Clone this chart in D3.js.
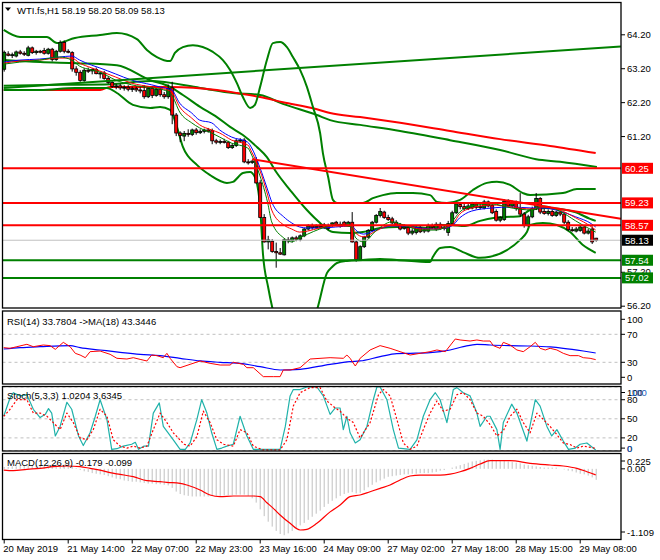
<!DOCTYPE html>
<html><head><meta charset="utf-8">
<script src="https://cdn.jsdelivr.net/npm/d3@7"></script>
<style>
body{margin:0;background:#fff;}
svg{display:block;}
text{font-family:"Liberation Sans",Arial,sans-serif;font-size:9.5px;fill:#000;}
</style></head>
<body><svg id="c" width="660" height="560"></svg>
<script>
// ---------- DATA ----------
const timeLabels=["20 May 2019","21 May 14:00","22 May 07:00","22 May 23:00","23 May 16:00","24 May 09:00","27 May 02:00","27 May 18:00","28 May 15:00","29 May 08:00"];
const timeTickIdx=[0,16,32,48,64,80,96,112,128,144];
const priceTicks=[64.2,63.2,62.2,61.2,57.2,56.2];

const open=[63.17,63.62,63.58,63.56,63.68,63.64,63.58,63.80,63.66,63.70,
63.72,63.64,63.76,63.46,63.70,63.96,63.70,63.66,63.18,63.08,
62.84,63.14,63.12,63.16,63.04,63.06,62.90,62.78,62.66,62.68,
62.62,62.64,62.58,62.60,62.56,62.54,62.36,62.60,62.40,62.58,
62.42,62.36,62.62,61.82,61.29,61.20,61.28,61.25,61.38,61.30,
61.34,61.38,61.36,61.06,61.02,61.04,61.02,60.86,60.92,61.06,
61.08,60.44,60.42,60.48,59.82,58.80,58.08,58.10,57.80,57.76,
57.70,58.14,58.12,58.20,58.16,58.26,58.46,58.55,58.50,58.54,
58.58,58.56,58.60,58.66,58.60,58.66,58.56,58.66,58.08,57.56,
57.94,58.22,58.42,58.66,58.86,58.96,58.80,58.76,58.66,58.58,
58.48,58.50,58.34,58.36,58.50,58.40,58.40,58.56,58.46,58.60,
58.48,58.36,58.62,58.94,59.18,59.12,59.06,59.08,59.20,59.10,
59.08,59.26,59.16,58.98,58.72,58.74,59.28,59.14,59.24,59.06,
58.90,58.56,58.82,59.06,59.36,58.98,58.92,58.98,58.86,58.96,
58.90,58.66,58.44,58.40,58.42,58.52,58.34,58.46,58.19];
const high=[63.72,63.70,63.66,63.72,63.74,63.70,63.86,63.84,63.74,63.74,
63.80,63.80,63.80,63.74,64.02,64.02,63.76,63.70,63.26,63.14,
63.20,63.22,63.20,63.22,63.10,63.12,62.96,62.82,62.74,62.74,
62.70,62.70,62.66,62.66,62.64,62.70,62.64,62.66,62.64,62.62,
62.50,62.72,62.80,61.88,61.34,61.35,61.40,61.42,61.44,61.40,
61.42,61.44,61.42,61.12,61.10,61.12,61.06,60.98,61.12,61.14,
61.14,60.52,60.50,60.58,59.90,58.90,58.26,58.16,58.06,57.90,
58.18,58.22,58.24,58.26,58.30,58.50,58.60,58.62,58.60,58.62,
58.64,58.62,58.66,58.70,58.68,58.70,58.70,58.96,58.12,57.98,
58.26,58.46,58.70,58.90,59.08,59.00,58.88,58.82,58.72,58.64,
58.60,58.56,58.46,58.54,58.56,58.48,58.62,58.62,58.66,58.66,
58.58,58.70,59.00,59.24,59.26,59.20,59.20,59.26,59.26,59.18,
59.32,59.30,59.22,59.04,58.84,59.34,59.34,59.30,59.30,59.52,
58.96,58.88,59.12,59.52,59.40,59.06,59.04,59.04,59.00,59.00,
58.96,58.72,58.52,58.52,58.56,58.56,58.46,58.54,58.20];
const low=[63.10,63.55,63.50,63.52,63.60,63.56,63.55,63.62,63.60,63.64,
63.60,63.60,63.40,63.42,63.66,63.64,63.64,63.10,62.98,62.80,
62.80,63.06,63.02,63.02,62.90,62.86,62.74,62.62,62.58,62.56,
62.54,62.52,62.50,62.50,62.46,62.30,62.32,62.32,62.36,62.36,
62.30,62.30,61.55,61.20,61.02,61.05,61.18,61.20,61.24,61.26,
61.28,61.30,60.96,60.96,60.96,60.98,60.82,60.82,60.88,61.00,
60.40,60.36,60.38,59.80,58.78,58.06,57.86,57.76,57.32,57.70,
57.68,58.04,58.06,58.10,58.10,58.22,58.42,58.44,58.46,58.48,
58.46,58.42,58.52,58.56,58.50,58.54,58.52,58.06,57.50,57.52,
57.90,58.18,58.38,58.62,58.80,58.76,58.70,58.60,58.54,58.42,
58.44,58.28,58.28,58.30,58.34,58.34,58.36,58.46,58.40,58.44,
58.42,58.26,58.58,58.90,59.04,59.00,59.02,59.04,59.04,59.04,
59.04,59.10,58.90,58.68,58.66,58.70,59.10,59.08,59.00,58.82,
58.50,58.52,58.78,59.02,58.90,58.88,58.86,58.82,58.82,58.84,
58.60,58.40,58.38,58.36,58.38,58.30,58.30,58.02,58.09];
const close=[63.67,63.58,63.60,63.68,63.64,63.62,63.80,63.66,63.70,63.68,
63.64,63.76,63.46,63.70,63.96,63.70,63.68,63.18,63.08,62.84,
63.14,63.12,63.16,63.04,63.06,62.90,62.78,62.66,62.68,62.62,
62.64,62.58,62.60,62.56,62.54,62.36,62.60,62.40,62.58,62.42,
62.36,62.60,61.82,61.29,61.22,61.28,61.25,61.38,61.30,61.34,
61.38,61.34,61.06,61.02,61.04,61.02,60.86,60.92,61.06,61.08,
60.44,60.42,60.46,59.82,58.80,58.08,58.14,57.80,57.76,57.72,
58.14,58.12,58.20,58.16,58.26,58.46,58.55,58.50,58.54,58.52,
58.50,58.48,58.64,58.60,58.56,58.58,58.66,58.08,57.56,57.94,
58.22,58.42,58.66,58.86,58.98,58.80,58.74,58.64,58.58,58.46,
58.52,58.34,58.40,58.48,58.38,58.44,58.56,58.52,58.60,58.48,
58.52,58.62,58.94,59.20,59.12,59.06,59.14,59.20,59.10,59.12,
59.26,59.14,58.94,58.72,58.80,59.28,59.14,59.24,59.06,58.90,
58.56,58.82,59.06,59.36,58.96,58.92,58.98,58.86,58.96,58.90,
58.66,58.44,58.42,58.46,58.52,58.34,58.40,58.08,58.13];

// Bollinger bands
const bbUpIdx=[0,4.1,10.8,13.3,17.8,24.1,28.3,33.3,35.8,38.3,41.6,42.8,44.8,47.3,52.3,54.8,56.6,58.3,59.8,61.6,62.8,64.1,65.8,67.3,69.1,70.8,72.3,74.1,75.8,77.3,79.1,79.8,81.1,82.3,83.3,89.8,92.3,94.8,98.3,102.3,106.6,108.3,110.8,114.1,117.3,120.8,123.3,126.6,129.8,131.6,139.8,143.3,148];
const bbUp=[64.33,64.12,64.12,63.94,64.09,64.18,64.24,64.06,63.74,63.53,63.41,63.65,63.82,63.88,63.68,63.44,63.15,62.76,62.35,62.03,62.12,62.65,63.44,63.94,63.97,63.82,63.53,63.15,62.65,62.06,61.29,60.70,60.00,59.32,59.23,59.23,59.37,59.46,59.52,59.52,59.46,59.26,59.23,59.32,59.61,59.82,59.85,59.76,59.52,59.46,59.52,59.64,59.64];
const bbMidIdx=[0,9.1,18.3,28.3,36.6,41.6,44.8,49.1,53.3,56.6,59.8,63.3,65.8,68.3,71.6,75.8,79.1,82.3,86.6,89.8,94.1,98.3,102.3,106.6,109.1,111.6,115.3,119.1,122.8,126.6,129.1,131.6,135.3,139.1,142.8,146.6,148];
const bbMid=[63.44,63.38,63.35,63.29,62.85,62.65,62.41,62.06,61.76,61.47,61.23,60.88,60.58,60.11,59.61,59.02,58.64,58.37,58.34,58.37,58.49,58.52,58.52,58.49,58.58,58.58,58.55,58.70,58.79,58.82,58.84,59.02,59.08,59.05,58.96,58.76,58.70];
const bbLowIdx=[0,9.1,17.8,25.8,28.3,32.3,36.6,39.1,41.6,43.3,44.8,48.3,51.6,55.8,57.3,59.8,61.6,62.8,64.1,64.8,66.1,67.3,70.3,72.8,75.3,78.3,80.8,82.1,83.3,85.8,89.8,94.1,98.3,106.6,107.3,109.1,111.6,114.8,119.1,121.6,125.8,129.1,130.8,131.6,134.8,138.3,141.6,144.8,148];
const bbLow=[62.56,62.56,62.62,62.62,62.47,62.12,62.03,62.06,61.97,61.47,60.88,60.35,60.05,59.82,59.85,60.11,60.14,59.99,59.11,57.75,56.75,56.07,55.34,55.13,55.34,56.07,57.16,57.34,57.46,57.52,57.55,57.58,57.55,57.49,57.64,57.90,57.93,57.78,57.61,57.64,57.84,58.14,58.37,58.58,58.64,58.58,58.37,57.99,57.76];

// long moving averages
const lmaRedIdx=[0,7.8,24.1,26.6,41.6,53.3,58.3,64.1,69.8,78.3,81.6,89.1,99.1,111.6,124.1,136.6,148];
const lmaRed=[62.56,62.56,62.56,62.65,62.65,62.56,62.47,62.35,62.20,61.99,61.88,61.76,61.59,61.35,61.11,60.91,60.70];
const lmaGreenIdx=[0,14.1,26.6,36.6,49.1,57.3,64.1,69.8,78.3,81.6,89.1,99.1,111.6,124.1,133.1,139.1,148.3];
const lmaGreen=[62.68,62.71,62.73,62.82,62.62,62.47,62.41,62.15,61.82,61.67,61.53,61.35,61.08,60.79,60.52,60.44,60.29];

// short moving averages
const maIdx=[0,4,9,14,17,19,22,24,28,32,37,40,42,44,47,49,52,54,57,61,62,64,66,67,70,72,74,76,79,83,87,88,90,93,97,100,104,108,112,114,117,122,127,132,135,139,143,147,148];
const maBlue=[63.38,63.44,63.47,63.53,63.56,63.44,63.29,63.21,63.03,62.85,62.71,62.62,62.56,62.17,61.88,61.67,61.59,61.38,61.17,61.02,60.85,60.29,59.61,59.26,58.82,58.64,58.52,58.49,58.49,58.52,58.55,58.43,58.31,58.43,58.55,58.55,58.49,58.46,58.55,58.79,58.99,59.08,59.11,59.08,59.08,58.99,58.82,58.61,58.52];
const maRed=[63.35,63.41,63.44,63.50,63.50,63.35,63.21,63.12,62.94,62.76,62.65,62.59,62.50,62.06,61.73,61.53,61.38,61.29,61.08,60.94,60.73,60.20,59.46,59.02,58.58,58.46,58.37,58.40,58.49,58.55,58.55,58.34,58.23,58.40,58.58,58.58,58.46,58.46,58.58,58.90,59.08,59.17,59.11,59.05,59.11,59.02,58.79,58.52,58.43];
const maGreen=[63.32,63.38,63.44,63.53,63.44,63.26,63.15,63.09,62.85,62.71,62.62,62.56,62.41,61.91,61.59,61.44,61.29,61.17,60.99,60.85,60.64,60.05,59.23,58.67,58.20,58.08,58.20,58.31,58.46,58.58,58.52,58.20,58.08,58.40,58.67,58.58,58.43,58.43,58.67,58.96,59.14,59.20,59.08,59.02,59.14,58.99,58.70,58.43,58.37];

// trend lines and levels
const trendUpIdx=[0,154.3], trendUp=[62.62,63.84];
const trendDownIdx=[62.1,154.3], trendDown=[60.52,58.76];
const redLevels=[60.25,59.23,58.57];
const greenLevels=[57.54,57.02];
const lastPrice=58.13;

// RSI
const rsiIdx=[0,1.6,3.3,5.8,7.4,9.9,11.6,12.9,14.9,16.6,17.9,19.1,20.4,21.6,24.1,26.6,28.3,30.8,32.4,34.1,35.8,37.0,38.3,39.9,40.8,41.6,43.3,44.1,46.6,49.1,51.6,54.1,56.6,57.4,59.9,60.8,62.4,64.9,67.4,69.1,69.9,71.6,74.1,76.6,81.6,84.9,85.8,86.6,87.9,89.1,91.6,94.1,96.6,99.1,101.6,104.1,106.6,108.3,110.4,112.9,114.1,116.6,118.3,119.9,121.6,122.4,124.1,124.9,126.6,128.3,129.9,131.6,132.9,134.1,135.4,136.6,138.3,139.9,141.6,143.7,144.9,146.6,148];
const rsiVal=[50.9,50.0,52.3,55.7,52.3,54.7,53.8,48.5,58.5,52.3,42.8,40.4,36.6,45.2,46.1,41.4,35.7,34.7,36.6,34.2,31.9,40.4,39.5,36.6,42.8,35.7,23.8,22.3,27.1,31.9,28.5,26.1,26.1,30.0,27.1,22.3,22.3,9.5,9.5,9.5,19.0,19.0,22.3,34.7,36.6,35.7,40.4,35.7,24.7,35.7,47.6,53.8,50.0,45.2,40.4,42.8,45.2,47.6,45.2,63.3,61.9,60.4,61.9,60.4,60.4,53.8,50.0,58.5,54.7,47.6,45.2,52.3,58.5,50.0,47.6,50.0,47.6,42.8,39.5,39.5,36.6,35.7,33.8];
const rsiMaIdx=[0,4.1,9.1,16.6,19.1,24.1,29.1,34.1,39.1,44.1,49.1,54.1,59.1,64.1,69.1,74.1,81.6,86.6,89.1,94.1,98.3,101.6,106.6,111.6,114.9,118.3,121.6,126.6,131.6,136.6,139.9,144.9,148];
const rsiMa=[49.0,50.9,52.3,53.8,50.9,47.6,44.3,41.4,39.5,35.7,31.9,30.0,28.5,23.8,19.0,20.0,27.1,30.9,31.9,38.0,42.3,42.8,43.8,47.6,52.3,55.7,54.7,53.8,53.3,51.9,50.0,46.1,43.3];

// Stochastic
const stoKIdx=[0,1.6,2.4,4.1,5.8,7.4,9.1,10.4,11.2,12.0,12.9,14.1,15.8,17.0,18.7,19.9,21.6,22.9,24.1,25.8,27.0,28.3,29.9,32.0,32.9,33.7,35.0,36.2,37.4,38.9,39.9,42.4,44.1,45.4,46.6,48.3,49.5,50.8,52.0,53.3,54.5,55.8,57.4,59.1,60.8,62.4,64.9,69.1,70.4,71.6,72.4,74.1,75.8,78.3,79.9,81.6,82.9,84.1,84.9,85.8,86.6,87.9,89.1,90.8,92.4,93.3,94.1,95.8,97.4,98.7,101.6,103.3,104.9,106.6,107.9,109.1,110.8,112.4,113.3,114.9,116.6,118.3,119.1,120.8,121.6,123.3,124.1,124.9,127.0,128.3,130.8,132.9,134.1,135.8,137.0,138.3,139.9,141.2,142.9,144.1,145.8,148];
const stoK=[54,83,91,86,88,65,52,57,66,59,23,38,76,65,23,8,28,54,80,49,2,3,7,10,13,2,7,7,59,75,38,17,2,2,12,49,80,59,28,2,4,7,10,54,23,2,2,2,38,86,96,96,100,100,86,57,67,67,33,54,28,12,17,38,80,100,100,80,33,4,2,17,54,80,91,80,44,96,99,91,86,59,38,54,54,33,2,44,73,59,15,80,70,38,23,33,15,2,4,10,12,1.02];
const stoDIdx=[0,1.6,3.3,5.8,7.4,9.1,10.8,12.4,14.1,15.8,17.4,19.1,20.8,22.4,24.1,25.8,27.4,29.1,30.8,32.4,34.1,35.8,37.4,39.1,40.8,42.4,45.1,46.6,48.3,49.9,51.6,53.3,55.0,57.4,59.1,60.8,62.4,64.9,69.1,70.8,72.4,74.1,76.6,79.1,80.8,82.9,84.1,85.8,87.4,89.1,91.6,93.7,94.9,96.6,98.3,99.9,101.6,103.3,104.9,106.6,108.3,109.9,111.6,113.3,114.9,116.6,118.3,119.9,121.6,123.3,124.9,126.6,128.3,129.9,131.6,133.3,134.9,136.6,138.3,139.9,141.6,143.3,144.9,148];
const stoD=[54,65,80,80,59,59,54,44,33,59,44,20,17,33,65,54,17,7,4,7,4,7,33,59,44,28,10,7,22,62,44,17,10,7,33,28,7,1,1,17,70,91,99,99,78,67,62,51,44,20,44,88,96,86,49,12,2,7,33,59,78,62,65,88,91,80,59,54,41,23,31,54,65,44,28,59,49,38,25,12,9.5,4,7,3.63];

// MACD
const macdHist=[0.03,0.03,0.04,0.04,0.05,0.05,0.05,0.06,0.06,0.06,
0.06,0.07,0.07,0.07,0.07,0.07,0.06,0.04,0.01,-0.02,
-0.04,-0.05,-0.07,-0.08,-0.09,-0.10,-0.12,-0.14,-0.16,-0.17,
-0.19,-0.20,-0.21,-0.21,-0.22,-0.23,-0.24,-0.24,-0.25,-0.25,
-0.26,-0.27,-0.31,-0.37,-0.41,-0.43,-0.44,-0.45,-0.45,-0.45,
-0.45,-0.45,-0.44,-0.44,-0.44,-0.43,-0.43,-0.43,-0.42,-0.42,
-0.42,-0.44,-0.48,-0.55,-0.66,-0.77,-0.86,-0.94,-1.01,-1.06,
-1.08,-1.05,-1.01,-0.97,-0.92,-0.88,-0.83,-0.78,-0.73,-0.68,
-0.62,-0.57,-0.52,-0.48,-0.44,-0.41,-0.39,-0.38,-0.40,-0.39,
-0.35,-0.30,-0.26,-0.22,-0.19,-0.16,-0.13,-0.12,-0.11,-0.10,
-0.09,-0.09,-0.08,-0.08,-0.07,-0.07,-0.07,-0.06,-0.05,-0.03,
-0.02,0.00,0.02,0.04,0.06,0.08,0.10,0.12,0.13,0.14,
0.15,0.15,0.15,0.14,0.13,0.13,0.12,0.11,0.10,0.09,
0.07,0.06,0.05,0.04,0.03,0.02,0.02,0.02,0.02,0.00,
-0.01,-0.03,-0.04,-0.06,-0.08,-0.09,-0.11,-0.14,-0.179];
const sigIdx=[0,2.4,5.8,9.1,12.4,15.8,19.1,21.6,24.1,26.6,29.1,32.4,35.8,39.1,40.8,44.1,45.8,49.1,51.6,54.1,57.4,62.4,64.1,65.8,67.4,69.1,71.6,74.1,75.8,78.3,81.6,84.1,86.6,89.1,91.6,94.1,96.6,99.1,101.6,104.1,109.1,111.6,114.1,116.6,119.1,121.6,126.6,131.6,136.6,139.9,143.3,145.8,148];
const sigVal=[-0.02,-0.03,-0.009,0.008,0.035,0.046,0.035,0.008,-0.02,-0.063,-0.09,-0.128,-0.193,-0.209,-0.22,-0.236,-0.263,-0.345,-0.426,-0.453,-0.442,-0.442,-0.453,-0.551,-0.643,-0.751,-0.887,-0.995,-0.984,-0.887,-0.70,-0.589,-0.453,-0.426,-0.372,-0.318,-0.263,-0.182,-0.117,-0.101,-0.101,-0.085,-0.047,0.008,0.078,0.132,0.132,0.089,0.062,0.046,0.008,-0.047,-0.099];

// ---------- DRAW ----------
const svg=d3.select('#c');
const XL=2.5, XR=621;
const P={main:[2.5,308],rsi:[311,384],sto:[386.5,451],macd:[453.5,539.5]};
const x=d3.scaleLinear().domain([0,148]).range([3.7,595.7]);
const yP=d3.scaleLinear().domain([56.2,64.2]).range([305.7,34.3]);
const yR=d3.scaleLinear().domain([0,100]).range([383.3,313.3]);
const yS=d3.scaleLinear().domain([0,100]).range([450.6,387]);
const yM=d3.scaleLinear().domain([-1.109,0.225]).range([537,455]);

const defs=svg.append('defs');
Object.entries(P).forEach(([k,[a,b]])=>{
  defs.append('clipPath').attr('id','clip-'+k).append('rect').attr('x',XL).attr('y',a).attr('width',XR-XL).attr('height',b-a);
});
const layer=k=>svg.append('g').attr('clip-path','url(#clip-'+k+')');

function zip(ix,v){return ix.map((d,i)=>[d,v[i]]);}
function path(g,data,ys,color,w,curve,dash){
  const l=d3.line().x(d=>x(d[0])).y(d=>ys(d[1])).curve(curve||d3.curveLinear);
  const p=g.append('path').datum(data).attr('d',l).attr('fill','none').attr('stroke',color).attr('stroke-width',w).attr('stroke-linejoin','round');
  if(dash) p.attr('stroke-dasharray',dash);
  return p;
}
const GREEN='#008000', RED='#ff0000';

// ---- main panel ----
const gm=layer('main');
path(gm,zip(lmaGreenIdx,lmaGreen),yP,GREEN,2,d3.curveMonotoneX);
path(gm,zip(lmaRedIdx,lmaRed),yP,RED,2,d3.curveMonotoneX);
path(gm,zip(bbUpIdx,bbUp),yP,GREEN,2,d3.curveMonotoneX);
path(gm,zip(bbMidIdx,bbMid),yP,GREEN,2,d3.curveMonotoneX);
path(gm,zip(bbLowIdx,bbLow),yP,GREEN,2,d3.curveMonotoneX);
const idx=d3.range(close.length);
gm.append('g').selectAll('line').data(idx).join('line')
  .attr('x1',i=>x(i)+0.5).attr('x2',i=>x(i)+0.5).attr('y1',i=>yP(high[i])).attr('y2',i=>yP(low[i]))
  .attr('stroke','#000').attr('stroke-width',1);
gm.append('g').selectAll('rect').data(idx).join('rect')
  .attr('x',i=>x(i)-1).attr('width',3)
  .attr('y',i=>yP(Math.max(open[i],close[i])))
  .attr('height',i=>Math.max(1,Math.abs(yP(open[i])-yP(close[i]))))
  .attr('fill',i=>close[i]>=open[i]?GREEN:RED).attr('stroke','#000').attr('stroke-width',0.8);
path(gm,zip(maIdx,maBlue),yP,'#0000ff',1,d3.curveMonotoneX);
path(gm,zip(maIdx,maRed),yP,RED,1,d3.curveMonotoneX);
path(gm,zip(maIdx,maGreen),yP,GREEN,1,d3.curveMonotoneX);
gm.append('line').attr('x1',XL).attr('x2',XR).attr('y1',yP(lastPrice)).attr('y2',yP(lastPrice)).attr('stroke','#c0c0c0').attr('stroke-width',1);
redLevels.forEach(v=>gm.append('line').attr('x1',XL).attr('x2',XR).attr('y1',yP(v)).attr('y2',yP(v)).attr('stroke',RED).attr('stroke-width',2));
greenLevels.forEach(v=>gm.append('line').attr('x1',XL).attr('x2',XR).attr('y1',yP(v)).attr('y2',yP(v)).attr('stroke',GREEN).attr('stroke-width',2));
path(gm,zip(trendUpIdx,trendUp),yP,GREEN,2);
path(gm,zip(trendDownIdx,trendDown),yP,RED,2);

// header
svg.append('path').attr('d','M5,7.5 L11,7.5 L8,11 Z').attr('fill','#000');
svg.append('text').attr('x',17).attr('y',14).text('WTI.fs,H1  58.19 58.20 58.09 58.13');

// right price axis
const ax=svg.append('g').attr('transform',`translate(${XR},0)`)
  .call(d3.axisRight(yP).tickValues(priceTicks).tickFormat(d3.format('.2f')).tickSize(4).tickPadding(2));
ax.select('.domain').remove();
ax.selectAll('text').style('font-family','Liberation Sans, Arial').style('font-size','9.5px');
function tag(v,fill){
  const y=yP(v);
  svg.append('rect').attr('x',622).attr('y',y-5.5).attr('width',31).attr('height',11).attr('fill',fill);
  svg.append('text').attr('x',625).attr('y',y+3.5).style('fill','#fff').text(v.toFixed(2));
}
redLevels.forEach(v=>tag(v,RED));
greenLevels.forEach(v=>tag(v,GREEN));
tag(lastPrice,'#000');

// ---- RSI ----
const gr=layer('rsi');
[70,30].forEach(v=>gr.append('line').attr('x1',XL).attr('x2',XR).attr('y1',yR(v)).attr('y2',yR(v)).attr('stroke','#c0c0c0').attr('stroke-dasharray','3,3'));
path(gr,zip(rsiMaIdx,rsiMa),yR,'#0000ff',1.2,d3.curveMonotoneX);
path(gr,zip(rsiIdx,rsiVal),yR,RED,1);
svg.append('text').attr('x',7).attr('y',324.5).text('RSI(14) 33.7804  ->MA(18) 43.3446');
[[100,yR(100)+6],[70,yR(70)],[30,yR(30)],[0,yR(0)-6]].forEach(([v,y])=>{
  svg.append('line').attr('x1',XR).attr('x2',XR+4).attr('y1',y).attr('y2',y).attr('stroke','#000');
  svg.append('text').attr('x',XR+6).attr('y',y+3.5).text(v);
});

// ---- Stochastic ----
const gs=layer('sto');
[100,80,50,20,0].forEach(v=>gs.append('line').attr('x1',XL).attr('x2',XR).attr('y1',yS(v)).attr('y2',yS(v)).attr('stroke','#c0c0c0').attr('stroke-dasharray','3,3'));
path(gs,zip(stoKIdx,stoK),yS,'#20b2aa',1.2);
path(gs,zip(stoDIdx,stoD),yS,RED,1.2,d3.curveLinear,'2,2');
svg.append('text').attr('x',7).attr('y',398.5).text('Stoch(5,3,3) 1.0204 3.6345');
[[100,yS(100)+5.5],[80,yS(80)],[50,yS(50)],[20,yS(20)],[0,yS(0)-2.5]].forEach(([v,y])=>{
  svg.append('line').attr('x1',XR).attr('x2',XR+4).attr('y1',y).attr('y2',y).attr('stroke','#000');
  svg.append('text').attr('x',XR+6).attr('y',y+3.5).text(v);
});
svg.append('text').attr('x',XR+10).attr('y',yS(100)+9).style('fill','#2060c0').text('100');
svg.append('text').attr('x',XR+6).attr('y',yS(0)+1).style('fill','#2060c0').text('0');

// ---- MACD ----
const gc=layer('macd');
gc.append('g').selectAll('line').data(idx).join('line')
  .attr('x1',i=>x(i)+0.5).attr('x2',i=>x(i)+0.5).attr('y1',yM(0)).attr('y2',i=>yM(macdHist[i]))
  .attr('stroke','#c0c0c0').attr('stroke-width',1);
path(gc,zip(sigIdx,sigVal),yM,RED,1.2,d3.curveMonotoneX);
svg.append('text').attr('x',7).attr('y',466).text('MACD(12,26,9) -0.179 -0.099');
[['0.225',461],['0.00',yM(0)],['-1.109',532]].forEach(([t,y])=>{
  svg.append('line').attr('x1',XR).attr('x2',XR+4).attr('y1',y).attr('y2',y).attr('stroke','#000');
  svg.append('text').attr('x',XR+6).attr('y',y+3.5).text(t);
});

// frames
Object.values(P).forEach(([a,b])=>svg.append('rect').attr('x',XL).attr('y',a).attr('width',XR-XL).attr('height',b-a).attr('fill','none').attr('stroke','#000').attr('stroke-width',1.3));

// time axis
const tx=svg.append('g').attr('transform',`translate(0,${P.macd[1]})`)
  .call(d3.axisBottom(x).tickValues(timeTickIdx).tickFormat((d,i)=>timeLabels[i]).tickSize(4).tickPadding(2));
tx.select('.domain').remove();
tx.selectAll('text').attr('text-anchor','start').attr('dx','-1').style('font-family','Liberation Sans, Arial').style('font-size','9.5px');
</script></body></html>
